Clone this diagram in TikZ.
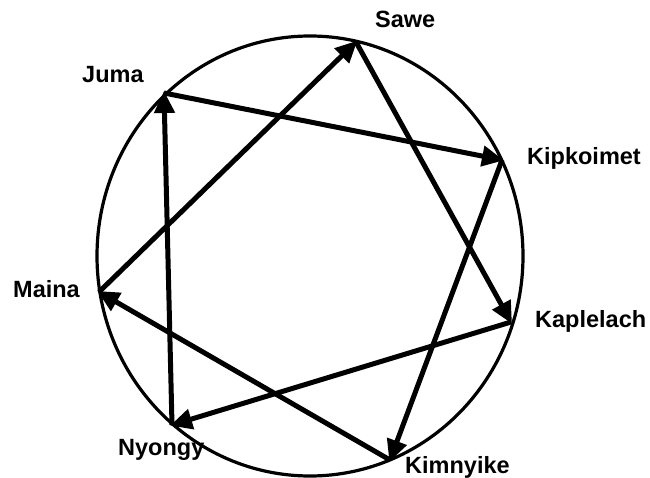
\documentclass[tikz,border=0pt]{standalone}
\usepackage{fontspec}
\setmainfont{Liberation Sans}
\usetikzlibrary{arrows.meta}
\begin{document}
\begin{tikzpicture}[x=1pt,y=-1pt,
  lbl/.style={anchor=base west,inner sep=0pt,font=\fontsize{23.5}{26}\selectfont\bfseries},
  link/.style={line width=5pt,-{Triangle[length=22pt,width=20pt]},shorten >=-2pt},
  ring/.style={line width=3.2pt}]
\useasboundingbox (0,0) rectangle (650,478);
\fill[white] (0,0) rectangle (650,478);
\draw[ring] (310,256) ellipse [x radius=213, y radius=220];
\coordinate (sawe) at (356,42);
\coordinate (juma) at (164,93);
\coordinate (kipk) at (502,160);
\coordinate (maina) at (99,292);
\coordinate (kapl) at (511,322);
\coordinate (nyon) at (172,425);
\coordinate (kimn) at (390,460);
\node[lbl] (tsawe) at (375,28) {Sawe};
\node[lbl] (tjuma) at (82,83) {Juma};
\node[lbl] (tkipk) at (527,165) {Kipkoimet};
\node[lbl] (tmaina) at (13,297) {Maina};
\node[lbl] (tkapl) at (535,327) {Kaplelach};
\node[lbl] (tnyon) at (118,455) {Nyongy};
\node[lbl] (tkimn) at (405,473) {Kimnyike};
\draw[link] (juma) -- (kipk);
\draw[link] (kipk) -- (kimn);
\draw[link] (kimn) -- (maina);
\draw[link] (maina) -- (sawe);
\draw[link] (sawe) -- (kapl);
\draw[link] (kapl) -- (nyon);
\draw[link] (nyon) -- (juma);
\end{tikzpicture}
\end{document}
